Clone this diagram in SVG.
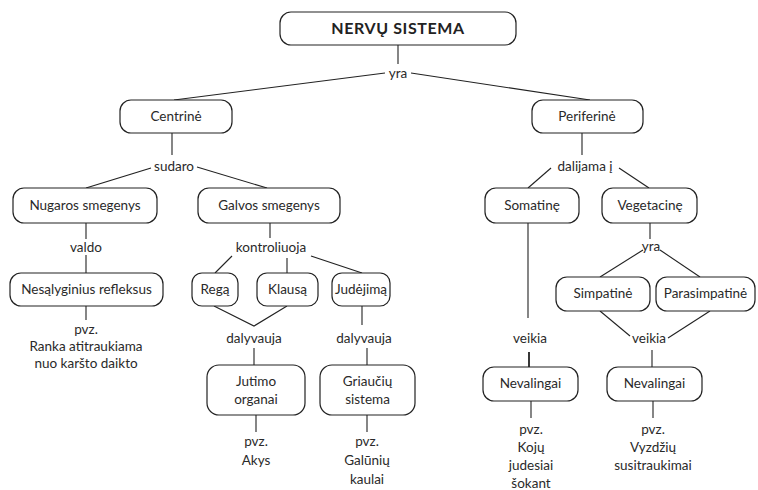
<svg xmlns="http://www.w3.org/2000/svg" width="758" height="490" viewBox="0 0 758 490">
<style>
.box{fill:#fff;stroke:#222;stroke-width:1.2}
.t{font-family:Lato,"Open Sans","Liberation Sans",sans-serif;font-size:13.5px;fill:#2a2a2a;text-anchor:middle}
.title{font-family:Lato,"Open Sans","Liberation Sans",sans-serif;font-size:16px;font-weight:bold;fill:#222;text-anchor:middle;letter-spacing:0.6px}
.c line,.c polyline{stroke:#222;stroke-width:1.1;fill:none}
</style>
<rect width="758" height="490" fill="#fff"/>
<g class="c" id="connectors">
<line x1="398" y1="45" x2="398" y2="64"/>
<line x1="385" y1="73" x2="174" y2="100"/>
<line x1="411" y1="73" x2="590" y2="100"/>
<line x1="172" y1="133" x2="172" y2="155"/>
<line x1="151" y1="168" x2="86" y2="188"/>
<line x1="197" y1="167" x2="267" y2="188"/>
<line x1="582" y1="133" x2="582" y2="155"/>
<line x1="551" y1="168" x2="528" y2="188"/>
<line x1="619" y1="168" x2="649" y2="188"/>
<line x1="86" y1="223" x2="86" y2="239"/>
<line x1="86" y1="255" x2="86" y2="273"/>
<line x1="86" y1="306" x2="86" y2="320"/>
<line x1="270" y1="223" x2="270" y2="238"/>
<line x1="232" y1="256" x2="215" y2="273"/>
<line x1="287" y1="258" x2="287" y2="273"/>
<line x1="311" y1="256" x2="362" y2="273"/>
<polyline points="214,306 254,326 287,306"/>
<line x1="362" y1="306" x2="362" y2="325"/>
<line x1="254" y1="348" x2="254" y2="365"/>
<line x1="367" y1="348" x2="367" y2="365"/>
<line x1="256" y1="415" x2="256" y2="432"/>
<line x1="367" y1="415" x2="367" y2="432"/>
<line x1="528" y1="223" x2="528" y2="318"/>
<line x1="529" y1="352" x2="529" y2="367" style="stroke-width:1.8"/>
<line x1="531" y1="401" x2="531" y2="418"/>
<line x1="650" y1="223" x2="650" y2="239"/>
<line x1="643" y1="250" x2="600" y2="277"/>
<line x1="660" y1="250" x2="700" y2="277"/>
<line x1="600" y1="311" x2="630" y2="336"/>
<line x1="710" y1="311" x2="668" y2="338"/>
<line x1="652" y1="350" x2="652" y2="367"/>
<line x1="653" y1="401" x2="653" y2="418"/>
</g>
<g id="nervu-sistema"><rect class="box" x="280" y="12" width="236" height="33" rx="11"/><text class="title" x="398" y="34">NERVŲ SISTEMA</text></g>
<g id="lbl-yra"><text class="t" x="398" y="78">yra</text></g>
<g id="centrine"><rect class="box" x="120" y="100" width="112" height="33" rx="11"/><text class="t" x="176" y="121">Centrinė</text></g>
<g id="periferine"><rect class="box" x="532" y="100" width="111" height="33" rx="11"/><text class="t" x="587" y="121">Periferinė</text></g>
<g id="lbl-sudaro"><text class="t" x="174" y="171">sudaro</text></g>
<g id="lbl-dalijama"><text class="t" x="585" y="171">dalijama į</text></g>
<g id="nugaros"><rect class="box" x="13" y="188" width="144" height="35" rx="11"/><text class="t" x="85" y="210">Nugaros smegenys</text></g>
<g id="galvos"><rect class="box" x="198" y="188" width="142" height="35" rx="11"/><text class="t" x="269" y="210">Galvos smegenys</text></g>
<g id="somatine"><rect class="box" x="485" y="188" width="94" height="35" rx="11"/><text class="t" x="532" y="210">Somatinę</text></g>
<g id="vegetacine"><rect class="box" x="602" y="188" width="95" height="35" rx="11"/><text class="t" x="650" y="210">Vegetacinę</text></g>
<g id="lbl-valdo"><text class="t" x="86" y="252">valdo</text></g>
<g id="lbl-kontroliuoja"><text class="t" x="271" y="252">kontroliuoja</text></g>
<g id="lbl-yra2"><text class="t" x="651" y="251">yra</text></g>
<g id="nesalyginius"><rect class="box" x="10" y="273" width="153" height="33" rx="11"/><text class="t" x="86.5" y="294">Nesąlyginius refleksus</text></g>
<g id="rega"><rect class="box" x="192" y="273" width="46" height="33" rx="10"/><text class="t" x="215" y="294">Regą</text></g>
<g id="klausa"><rect class="box" x="257" y="273" width="61" height="33" rx="10"/><text class="t" x="287.5" y="294">Klausą</text></g>
<g id="judejima"><rect class="box" x="332" y="273" width="58" height="33" rx="10"/><text class="t" x="361" y="294">Judėjimą</text></g>
<g id="simpatine"><rect class="box" x="556" y="277" width="94" height="34" rx="11"/><text class="t" x="603" y="298">Simpatinė</text></g>
<g id="parasimpatine"><rect class="box" x="656" y="277" width="99" height="34" rx="11"/><text class="t" x="705.5" y="298">Parasimpatinė</text></g>
<g id="pvz-refleksai"><text class="t" x="86" y="334">pvz.</text><text class="t" x="86" y="351">Ranka atitraukiama</text><text class="t" x="86" y="368">nuo karšto daikto</text></g>
<g id="lbl-dalyvauja1"><text class="t" x="254" y="343">dalyvauja</text></g>
<g id="lbl-dalyvauja2"><text class="t" x="364" y="343">dalyvauja</text></g>
<g id="lbl-veikia1"><text class="t" x="530" y="343">veikia</text></g>
<g id="lbl-veikia2"><text class="t" x="649" y="343">veikia</text></g>
<g id="jutimo"><rect class="box" x="207" y="365" width="98" height="50" rx="12"/><text class="t" x="256" y="386">Jutimo</text><text class="t" x="256" y="404">organai</text></g>
<g id="griauciu"><rect class="box" x="320" y="365" width="95" height="50" rx="12"/><text class="t" x="367.5" y="386">Griaučių</text><text class="t" x="367.5" y="404">sistema</text></g>
<g id="nevalingai1"><rect class="box" x="483" y="367" width="95" height="34" rx="11"/><text class="t" x="530.5" y="388">Nevalingai</text></g>
<g id="nevalingai2"><rect class="box" x="607" y="367" width="95" height="34" rx="11"/><text class="t" x="654.5" y="388">Nevalingai</text></g>
<g id="pvz-akys"><text class="t" x="256" y="446">pvz.</text><text class="t" x="256" y="465">Akys</text></g>
<g id="pvz-galuniu"><text class="t" x="367" y="446">pvz.</text><text class="t" x="367" y="465">Galūnių</text><text class="t" x="367" y="484">kaulai</text></g>
<g id="pvz-koju"><text class="t" x="531" y="434">pvz.</text><text class="t" x="531" y="452">Kojų</text><text class="t" x="531" y="470">judesiai</text><text class="t" x="531" y="488">šokant</text></g>
<g id="pvz-vyzdziu"><text class="t" x="653" y="434">pvz.</text><text class="t" x="653" y="452">Vyzdžių</text><text class="t" x="653" y="470">susitraukimai</text></g>
</svg>
